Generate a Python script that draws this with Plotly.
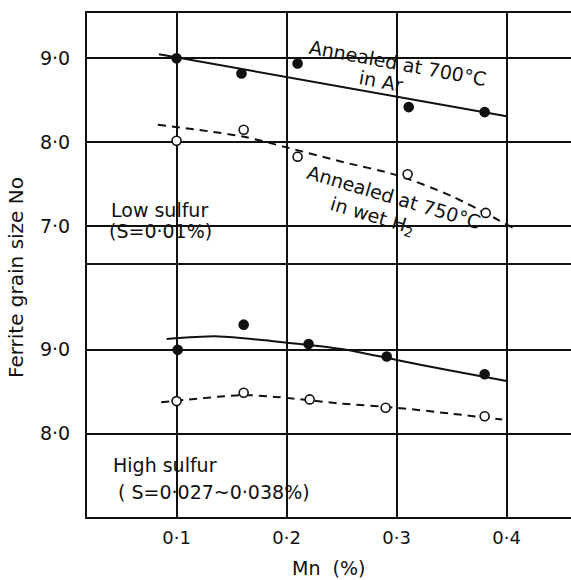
import plotly.graph_objects as go

# ---- data ----
# Low sulfur panel (top)
low_ar_mn = [0.100, 0.159, 0.210, 0.311, 0.380]
low_ar_size = [9.00, 8.82, 8.94, 8.42, 8.36]
low_ar_fit_mn = [0.084, 0.400]
low_ar_fit_size = [9.05, 8.31]

low_h2_mn = [0.100, 0.161, 0.210, 0.310, 0.381]
low_h2_size = [8.02, 8.15, 7.83, 7.62, 7.16]
low_h2_fit_mn = [0.083, 0.160, 0.200, 0.250, 0.300, 0.350, 0.406]
low_h2_fit_size = [8.21, 8.07, 7.94, 7.77, 7.61, 7.36, 6.98]

# High sulfur panel (bottom)
high_ar_mn = [0.101, 0.161, 0.220, 0.291, 0.380]
high_ar_size = [9.00, 9.30, 9.07, 8.92, 8.71]
high_ar_fit_mn = [0.091, 0.138, 0.190, 0.250, 0.300, 0.350, 0.400]
high_ar_fit_size = [9.13, 9.16, 9.10, 9.01, 8.88, 8.75, 8.63]

high_h2_mn = [0.100, 0.161, 0.221, 0.290, 0.380]
high_h2_size = [8.39, 8.49, 8.41, 8.31, 8.21]
high_h2_fit_mn = [0.086, 0.160, 0.190, 0.250, 0.300, 0.350, 0.396]
high_h2_fit_size = [8.375, 8.46, 8.44, 8.36, 8.31, 8.24, 8.17]

x_tickvals = [0.1, 0.2, 0.3, 0.4]
x_ticktext = ["0·1", "0·2", "0·3", "0·4"]
top_tickvals = [7, 8, 9]
top_ticktext = ["7·0", "8·0", "9·0"]
bot_tickvals = [8, 9]
bot_ticktext = ["8·0", "9·0"]

FONT = "DejaVu Sans"
BLACK = "#111111"

fig = go.Figure()

def line(x, y, xa, ya, dash="solid", shape="linear"):
    fig.add_trace(go.Scatter(x=x, y=y, xaxis=xa, yaxis=ya, mode="lines",
                             line=dict(color=BLACK, width=2, dash=dash, shape=shape,
                                       smoothing=0.8),
                             showlegend=False, hoverinfo="skip"))

def pts(x, y, xa, ya, filled):
    fig.add_trace(go.Scatter(x=x, y=y, xaxis=xa, yaxis=ya, mode="markers",
                             marker=dict(size=9,
                                         color=BLACK if filled else "white",
                                         line=dict(color=BLACK, width=1.6)),
                             showlegend=False))

# top panel
line(low_ar_fit_mn, low_ar_fit_size, "x2", "y2")
line(low_h2_fit_mn, low_h2_fit_size, "x2", "y2", dash="8px,6px", shape="spline")
pts(low_ar_mn, low_ar_size, "x2", "y2", True)
pts(low_h2_mn, low_h2_size, "x2", "y2", False)
# bottom panel
line(high_ar_fit_mn, high_ar_fit_size, "x", "y", shape="spline")
line(high_h2_fit_mn, high_h2_fit_size, "x", "y", dash="8px,6px", shape="spline")
pts(high_ar_mn, high_ar_size, "x", "y", True)
pts(high_h2_mn, high_h2_size, "x", "y", False)

xr = [0.0186, 0.4585]
common_x = dict(range=xr, tickvals=x_tickvals, showgrid=True, gridcolor=BLACK,
                gridwidth=1.5, zeroline=False, showline=True, linecolor=BLACK,
                linewidth=2.2, ticks="")
common_y = dict(showgrid=True, gridcolor=BLACK, gridwidth=1.5,
                zeroline=False, showline=True, linecolor=BLACK, linewidth=2.2,
                ticks="", tickfont=dict(size=19, family=FONT, color=BLACK),
                ticklabelstandoff=11)
fig.update_layout(
    width=571, height=580,
    margin=dict(l=87, r=0, t=13, b=63),
    paper_bgcolor="white", plot_bgcolor="white",
    font=dict(family=FONT, color=BLACK, size=18),
    xaxis=dict(**common_x, anchor="y", mirror=True, ticktext=x_ticktext,
               tickfont=dict(size=18, family=FONT, color=BLACK),
               ticklabelstandoff=3),
    xaxis2=dict(**common_x, anchor="y2", side="top", matches="x",
                showticklabels=False),
    yaxis=dict(**common_y, domain=[0, 0.5], range=[7.01, 10.01],
               tickvals=bot_tickvals, ticktext=bot_ticktext),
    yaxis2=dict(**common_y, domain=[0.5, 1], range=[6.54, 9.54],
                tickvals=top_tickvals, ticktext=top_ticktext, anchor="x2"),
)

W, H, L, T = 484.0, 504.0, 87.0, 13.0
def px(xp, yp):
    return (xp - L) / W, (T + H - yp) / H

def ann(text, xp, yp, size=19, angle=0, xanchor="center"):
    x, y = px(xp, yp)
    fig.add_annotation(text=text, x=x, y=y, xref="paper", yref="paper",
                       showarrow=False, textangle=angle, xanchor=xanchor,
                       yanchor="middle", font=dict(size=size, family=FONT, color=BLACK))

ann("Annealed at 700°C", 398, 63, angle=10.5)
ann("in Ar", 381, 81, angle=10.5)
ann("Annealed at 750°C", 394, 197, angle=16.5)
ann("in wet H<sub>2</sub>", 372, 216, angle=16.5)
ann("Low sulfur", 109, 210, xanchor="left")
ann("(S=0·01%)", 107, 231, xanchor="left")
ann("High sulfur", 111, 465, xanchor="left")
ann("( S=0·027~0·038%)", 116, 492, xanchor="left")
ann("Ferrite grain size No", 16, 278, size=20, angle=-90)
ann("Mn  (%)", 328, 568, size=19)

fig.write_html("out.html")
